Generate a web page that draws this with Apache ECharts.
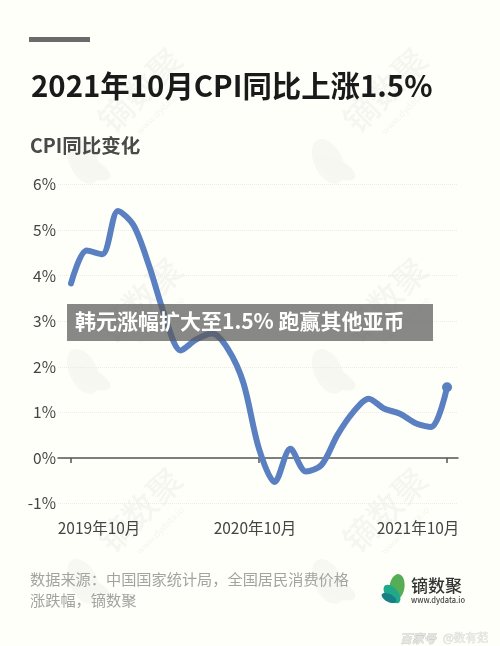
<!DOCTYPE html>
<html>
<head>
<meta charset="utf-8">
<style>
html, body { margin: 0; padding: 0; background: #fffffa; }
#chart { width: 500px; height: 646px; }
</style>
<script src="https://cdn.jsdelivr.net/npm/echarts@6/dist/echarts.min.js"></script>
</head>
<body>
<div id="chart"></div>
<script>
var FONT = '"Noto Sans CJK SC", "Noto Sans", sans-serif';

// monthly CPI, 2019-10 .. 2021-10
var cpiValues = [3.83, 4.55, 4.47, 5.42, 5.1, 4.2, 3.1, 2.36, 2.6, 2.73, 2.4, 1.65, 0.2,
    -0.53, 0.2, -0.3, -0.15, 0.5, 1.0, 1.3, 1.08, 0.97, 0.76, 0.68, 1.55];
var tickMonths = [0, 12, 24];
var labelMonths = [1.79, 11.74, 22.15];
var labelTexts = ['2019年10月', '2020年10月', '2021年10月'];

var titleText = '2021年10月CPI同比上涨1.5%';
var subTitleText = 'CPI同比变化';
var bannerText = '韩元涨幅扩大至1.5% 跑赢其他亚币';
var sourceText = '数据来源：中国国家统计局，全国居民消费价格\n涨跌幅，镝数聚';

var markX = [140, 385];
var markY = [90, 300, 510];
var leafX = [85, 330];
var leafY = [165, 375, 585];

var seriesData = [];
for (var i = 0; i < cpiValues.length; i++) {
    seriesData.push({
        value: [i, cpiValues[i]],
        symbolSize: i === cpiValues.length - 1 ? 10 : 0
    });
}

// faint background watermarks
var elements = [];
markX.forEach(function (x) {
    markY.forEach(function (y) {
        elements.push({
            type: 'text', x: x, y: y, rotation: Math.PI / 4, z: 0, silent: true,
            style: {text: '镝数聚', font: '500 34px ' + FONT, fill: '#f6f6f1', align: 'center', verticalAlign: 'middle'}
        });
        elements.push({
            type: 'text', x: x + 17, y: y + 17, rotation: Math.PI / 4, z: 0, silent: true,
            style: {text: 'www.dydata.io', font: '9px ' + FONT, fill: '#f5f5f0', align: 'center', verticalAlign: 'top'}
        });
    });
});
leafX.forEach(function (x) {
    leafY.forEach(function (y) {
        elements.push({
            type: 'ellipse', z: 0, silent: true, rotation: 0.45, x: x, y: y,
            shape: {cx: 0, cy: -4, rx: 14, ry: 24}, style: {fill: '#f8f8f3'}
        });
        elements.push({
            type: 'ellipse', z: 0, silent: true, rotation: 1.1, x: x, y: y,
            shape: {cx: 0, cy: 6, rx: 9, ry: 22}, style: {fill: '#f7f7f2'}
        });
    });
});

// top rule
elements.push({type: 'rect', shape: {x: 29, y: 37, width: 61, height: 5}, style: {fill: '#6b6b6b'}, z: 5});

// logo
elements.push({
    type: 'ellipse', x: 397, y: 587, rotation: -0.15, z: 5,
    shape: {cx: 0, cy: 0, rx: 7.5, ry: 13}, style: {fill: '#55ad55'}
});
elements.push({
    type: 'ellipse', x: 392, y: 594, rotation: 0.7, z: 6,
    shape: {cx: 0, cy: 0, rx: 6, ry: 11}, style: {fill: '#1fa88c'}
});
elements.push({
    type: 'ellipse', x: 389, y: 598, rotation: 1.1, z: 7,
    shape: {cx: 0, cy: 0, rx: 4, ry: 8}, style: {fill: '#177f86'}
});
elements.push({
    type: 'text', x: 411, y: 586, z: 5,
    style: {text: '镝数聚', font: '500 17px ' + FONT, fill: '#333', verticalAlign: 'middle'}
});
elements.push({
    type: 'text', x: 411, y: 600, z: 5,
    style: {text: 'www.dydata.io', font: '500 7.5px ' + FONT, fill: '#444', verticalAlign: 'middle'}
});

// bottom right credit
elements.push({
    type: 'text', x: 400, y: 638, z: 5,
    style: {text: '百家号', font: 'italic 700 12px ' + FONT, fill: '#e4e4e0', stroke: '#b9b9b6', lineWidth: 0.5, verticalAlign: 'middle'}
});
elements.push({
    type: 'text', x: 443, y: 638, z: 5,
    style: {text: '@数有范', font: '11.5px ' + FONT, fill: '#ecece8', stroke: '#c6c6c2', lineWidth: 0.4, verticalAlign: 'middle'}
});

// banner over the chart
elements.push({
    type: 'rect', z: 100,
    shape: {x: 67, y: 304, width: 366, height: 37},
    style: {fill: 'rgba(90,90,90,0.72)'}
});
elements.push({
    type: 'text', x: 75, y: 321, z: 101,
    style: {text: bannerText, font: '700 21px ' + FONT, fill: '#fff', verticalAlign: 'middle'}
});

var myChart = echarts.init(document.getElementById('chart'), null, {renderer: 'canvas'});

var option = {
    backgroundColor: '#fffffa',
    animation: false,
    title: [
        {
            text: titleText, left: 26, top: 66,
            textStyle: {fontFamily: FONT, fontSize: 29.4, fontWeight: 700, color: '#1a1a1a'}
        },
        {
            text: subTitleText, left: 25, top: 131,
            textStyle: {fontFamily: FONT, fontSize: 19.5, fontWeight: 700, color: '#4a4a4a'}
        },
        {
            text: sourceText, left: 25, top: 564,
            textStyle: {fontFamily: FONT, fontSize: 15.2, fontWeight: 400, color: '#a3a3a0', lineHeight: 21}
        }
    ],
    grid: {left: 58, right: 42, top: 184.5, bottom: 142.5},
    xAxis: {
        type: 'value',
        min: -0.83,
        max: 24.7,
        splitLine: {show: false},
        axisLine: {show: true, onZero: true, lineStyle: {color: '#555', width: 1.5}},
        axisTick: {show: true, customValues: tickMonths, length: 5, lineStyle: {color: '#555', width: 1.5}},
        axisLabel: {
            show: true,
            margin: 17,
            customValues: labelMonths,
            fontFamily: FONT,
            fontSize: 15.5,
            color: '#444',
            formatter: function (v) {
                return labelTexts[labelMonths.indexOf(v)];
            }
        }
    },
    yAxis: {
        type: 'value',
        min: -1,
        max: 6,
        interval: 1,
        axisLine: {show: false},
        axisTick: {show: false},
        axisLabel: {margin: 2, fontFamily: FONT, fontSize: 15.5, color: '#444', formatter: '{value}%'},
        splitLine: {show: true, lineStyle: {type: 'dotted', color: '#ecece6', width: 1}}
    },
    series: [{
        type: 'line',
        smooth: 0.3,
        data: seriesData,
        showSymbol: true,
        showAllSymbols: true,
        symbol: 'circle',
        itemStyle: {color: '#5b80c2'},
        lineStyle: {color: '#5b80c2', width: 6, cap: 'round'},
        z: 10
    }],
    graphic: {elements: elements}
};

myChart.setOption(option);
</script>
</body>
</html>
